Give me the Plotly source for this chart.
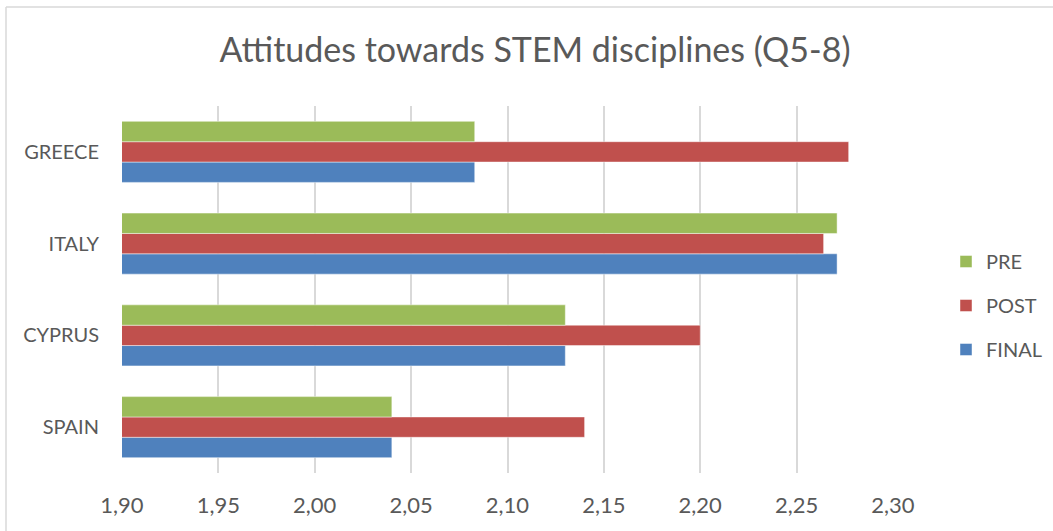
import plotly.graph_objects as go

countries = ["SPAIN", "CYPRUS", "ITALY", "GREECE"]
pre = [2.040, 2.130, 2.271, 2.083]
post = [2.140, 2.200, 2.264, 2.277]
final = [2.040, 2.130, 2.271, 2.083]
tick_vals = [1.90, 1.95, 2.00, 2.05, 2.10, 2.15, 2.20, 2.25, 2.30]

series = [
    ("FINAL", final, "#4F81BD", 3),
    ("POST", post, "#C0504D", 2),
    ("PRE", pre, "#9BBB59", 1),
]

fig = go.Figure()
for name, vals, col, rank in series:
    fig.add_trace(go.Bar(
        y=countries, x=vals, name=name, orientation="h",
        legendgroup=name, legendrank=rank,
        marker=dict(color=col, line=dict(color="rgba(255,255,255,0.45)", width=1)),
    ))

font_family = "Lato, 'Open Sans', sans-serif"
L, R, T, B = 122, 893, 106, 473
W, H = R - L, B - T
fig.update_layout(
    width=1053, height=531,
    paper_bgcolor="white", plot_bgcolor="white",
    separators=",.",
    barmode="group", bargap=0.335, bargroupgap=0,
    margin=dict(l=L, r=1053 - R, t=T, b=531 - B, autoexpand=False),
    title=dict(text="Attitudes towards STEM disciplines (Q5-8)",
               x=535 / 1053, xanchor="center", y=1 - 50 / 531, yanchor="middle",
               font=dict(family=font_family, size=34, color="#595959")),
    font=dict(family=font_family, color="#595959", size=18),
    showlegend=True,
    legend=dict(x=(946 - L) / W, xanchor="left", y=(B - 242) / H, yanchor="top",
                traceorder="grouped", tracegroupgap=15,
                font=dict(size=20, color="#595959"),
                itemwidth=30, bgcolor="rgba(0,0,0,0)"),
    xaxis=dict(range=[1.90, 2.30], tickvals=tick_vals, tickformat=".2f",
               showgrid=True, gridcolor="#D9D9D9", gridwidth=1.5,
               zeroline=False, showline=False, ticks="", automargin=False,
               ticklabelstandoff=17,
               tickfont=dict(size=22, color="#595959")),
    yaxis=dict(categoryorder="array", categoryarray=countries,
               showgrid=False, zeroline=False, showline=False, ticks="",
               automargin=False, ticklabelstandoff=22,
               tickfont=dict(size=20, color="#595959")),
    shapes=[
        dict(type="line", xref="paper", yref="paper",
             x0=(6 - L) / W, x1=(1053 - L) / W,
             y0=(B - 7) / H, y1=(B - 7) / H,
             line=dict(color="#D9D9D9", width=1.5)),
        dict(type="line", xref="paper", yref="paper",
             x0=(6 - L) / W, x1=(6 - L) / W,
             y0=(B - 7) / H, y1=(B - 531) / H,
             line=dict(color="#D9D9D9", width=1.5)),
    ],
)
fig.write_html("out.html",
               config={"displayModeBar": False},
               post_script="document.body.style.margin='0px';document.body.style.overflow='hidden';")
